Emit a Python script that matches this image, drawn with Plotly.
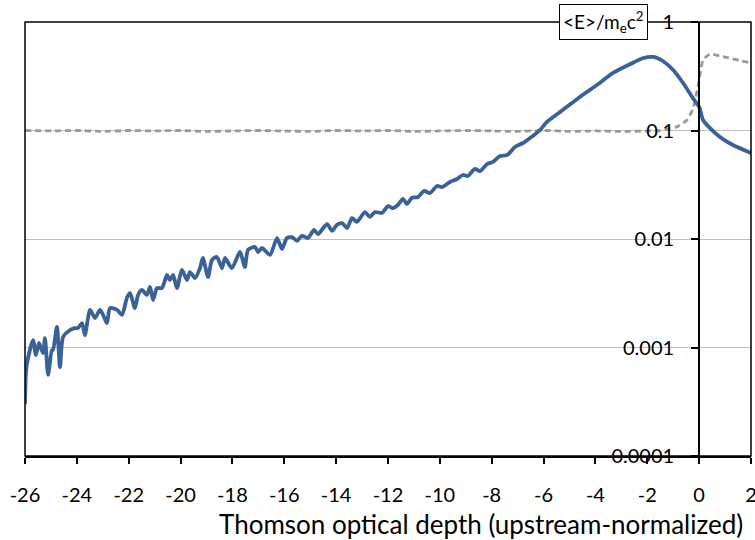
import plotly.graph_objects as go

# Blue curve: mean energy <E>/m_e c^2 vs Thomson optical depth
tau_e = [-26.00, -25.97, -25.92, -25.69, -25.58, -25.46, -25.31, -25.23, -25.11, -24.96,
         -24.92, -24.77, -24.65, -24.53, -24.26, -24.07, -23.96, -23.80, -23.69, -23.49,
         -23.30, -23.11, -22.99, -22.84, -22.72, -22.45, -22.26, -22.07, -21.95, -21.76,
         -21.64, -21.49, -21.30, -21.18, -21.06, -20.91, -20.72, -20.52, -20.41, -20.29,
         -20.14, -19.95, -19.75, -19.64, -19.44, -19.25, -19.14, -18.94, -18.79, -18.60,
         -18.40, -18.29, -18.02, -17.71, -17.52, -17.40, -17.13, -17.01, -16.86, -16.55,
         -16.28, -16.09, -15.90, -15.70, -15.51, -15.32, -15.09, -14.85, -14.70, -14.35,
         -14.16, -13.97, -13.77, -13.58, -13.39, -13.20, -12.89, -12.70, -12.50, -12.23,
         -12.00, -11.81, -11.62, -11.42, -11.27, -11.08, -10.84, -10.61, -10.38, -10.11,
         -9.92, -9.61, -9.34, -9.11, -8.92, -8.65, -8.45, -8.18, -7.95, -7.68,
         -7.41, -7.10, -6.79, -6.52, -6.14, -5.87, -5.25, -4.60, -3.94, -3.32,
         -2.65, -2.15, -1.76, -1.40, -1.00, -0.62, -0.24, 0.00, 0.15, 0.42,
         0.80, 1.30, 2.00]
energy = [0.00030, 0.00055, 0.00072, 0.00117, 0.00085, 0.00110, 0.00089, 0.00122, 0.00056, 0.00095,
          0.00095, 0.00155, 0.00066, 0.00125, 0.00145, 0.00151, 0.00151, 0.00168, 0.00130, 0.00222,
          0.00187, 0.00222, 0.00200, 0.00168, 0.00231, 0.00222, 0.00200, 0.00286, 0.00318, 0.00231,
          0.00305, 0.00339, 0.00305, 0.00361, 0.00274, 0.00353, 0.00353, 0.00466, 0.00419, 0.00466,
          0.00353, 0.00518, 0.00419, 0.00496, 0.00437, 0.00540, 0.00668, 0.00447, 0.00640, 0.00683,
          0.00540, 0.00668, 0.00540, 0.00759, 0.00552, 0.00792, 0.00844, 0.00759, 0.00826, 0.00713,
          0.0102, 0.00809, 0.0102, 0.0104, 0.0096, 0.0107, 0.0102, 0.0121, 0.0111, 0.0137,
          0.0119, 0.0135, 0.0140, 0.0126, 0.0156, 0.0144, 0.0177, 0.0160, 0.0177, 0.0174,
          0.0201, 0.0193, 0.0206, 0.0234, 0.0210, 0.0239, 0.0244, 0.0277, 0.0265, 0.0308,
          0.0301, 0.0335, 0.0357, 0.0389, 0.0381, 0.0442, 0.0423, 0.0491, 0.0513, 0.0582,
          0.0594, 0.0705, 0.0767, 0.0853, 0.101, 0.120, 0.155, 0.204, 0.263, 0.339,
          0.410, 0.466, 0.476, 0.437, 0.361, 0.274, 0.199, 0.165, 0.125, 0.105,
          0.0871, 0.0735, 0.062]

# Gray dashed curve
tau_g = [-26, -25, -24, -23, -22, -21, -20, -19, -18, -17, -16, -15, -14, -13, -12, -11,
         -10, -9, -8, -7, -6, -5, -4, -3, -2, -1.5, -0.86, -0.47, -0.24, -0.02, 0.15, 0.42,
         0.80, 2.00]
gray_v = [0.100, 0.099, 0.100, 0.098, 0.100, 0.099, 0.100, 0.098, 0.099, 0.100, 0.099, 0.098,
          0.100, 0.099, 0.100, 0.098, 0.099, 0.100, 0.099, 0.098, 0.100, 0.098, 0.099, 0.098,
          0.099, 0.100, 0.108, 0.125, 0.158, 0.274, 0.447, 0.507, 0.486, 0.419]

y_ticks = [1e-4, 1e-3, 1e-2, 1e-1, 1]
y_labels = ["0.0001", "0.001", "0.01", "0.1", "1"]
x_ticks = list(range(-26, 3, 2))
x_labels = [str(v) for v in x_ticks]

FONT = "Lato"

fig = go.Figure()
fig.add_trace(go.Scatter(x=tau_g, y=gray_v, mode="lines",
                         line=dict(color="#999999", width=2.8, dash="6px,4px",
                                   shape="spline", smoothing=0.5),
                         showlegend=False))
fig.add_trace(go.Scatter(x=tau_e, y=energy, mode="lines",
                         line=dict(color="#386298", width=3.8, shape="spline", smoothing=0.7),
                         showlegend=False))

fig.update_layout(
    width=755, height=540,
    margin=dict(l=25, r=4, t=22, b=84, autoexpand=False),
    paper_bgcolor="white", plot_bgcolor="white",
    font=dict(family=FONT, size=20, color="black"),
    xaxis=dict(range=[-26, 2], tickvals=x_ticks, ticktext=x_labels, ticks="outside", ticklen=6,
               tickwidth=1.5, tickcolor="black", showline=True, linecolor="black",
               linewidth=1.5, showgrid=False, zeroline=False, automargin=False,
               ticklabelstandoff=14, ticklabeloverflow="allow"),
    yaxis=dict(type="log", range=[-4, 0], tickvals=y_ticks, ticktext=y_labels,
               anchor="free", position=26 / 28, ticks="outside", ticklen=7,
               tickwidth=2, tickcolor="black", showline=True, linecolor="black",
               linewidth=2, showgrid=True, gridcolor="#c0c0c0", gridwidth=1,
               zeroline=False, ticklabelstandoff=13, automargin=False),
    shapes=[dict(type="rect", xref="paper", yref="paper", x0=0, x1=1, y0=0, y1=1,
                 line=dict(color="black", width=1.5), layer="above")],
    annotations=[
        dict(text="&lt;E&gt;/m<sub>e</sub>c<sup>2</sup>", xref="x", yref="paper",
             x=-3.67, y=1.0, xanchor="center", yanchor="middle",
             showarrow=False, bgcolor="white", bordercolor="black",
             borderwidth=1, borderpad=3, font=dict(size=19)),
        dict(text="Thomson optical depth (upstream-normalized)", xref="paper", yref="paper",
             x=1.0, y=0, xanchor="right", yanchor="middle", yshift=-68,
             xshift=-6, showarrow=False, font=dict(size=26)),
    ],
)

fig.write_html("out.html")
